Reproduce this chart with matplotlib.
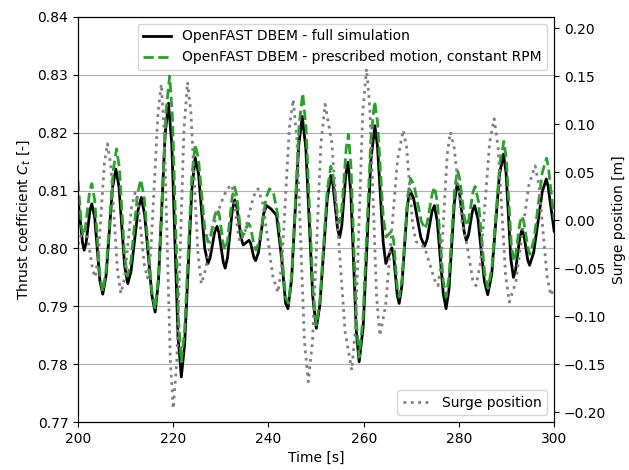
import numpy as np
import matplotlib
matplotlib.use('Agg')
from matplotlib import pyplot as plt

# values (extrema plus a few points on each flank)
t_full = [200.0, 200.95, 201.3, 201.7, 202.5, 202.9, 203.5, 204.6, 205.2, 205.9,
          207.25, 207.95, 208.6, 209.8, 210.45, 211.15, 212.6, 213.3, 214.0, 215.5,
          216.2, 216.9, 218.3, 219.0, 219.7, 221.0, 221.7, 222.4, 223.9, 224.6,
          225.3, 226.6, 227.3, 227.75, 228.7, 229.2, 229.6, 230.5, 230.9, 231.4,
          232.4, 232.9, 233.35, 234.25, 234.7, 235.9, 236.25, 236.95, 237.3, 237.9,
          239.0, 239.6, 240.6, 241.7, 242.8, 243.6, 244.1, 244.85, 246.35, 247.1,
          247.85, 249.3, 250.05, 250.8, 252.35, 253.1, 253.55, 254.5, 254.95, 255.4,
          256.25, 256.7, 257.3, 258.45, 259.05, 259.9, 261.5, 262.35, 262.9, 264.1,
          264.65, 265.9, 266.3, 267.05, 267.45, 268.0, 269.15, 269.7, 270.5, 272.0,
          272.8, 273.3, 274.35, 274.85, 275.45, 276.7, 277.3, 277.9, 279.05, 279.65,
          280.1, 281.1, 281.55, 282.0, 282.85, 283.3, 284.0, 285.35, 286.05, 286.9,
          288.5, 289.35, 289.9, 290.9, 291.45, 291.9, 292.8, 293.25, 293.65, 294.45,
          294.85, 295.7, 297.5, 298.35, 298.75, 300.0]
ct_full = [0.8085, 0.8010, 0.7997, 0.8009, 0.8065, 0.8077, 0.8054, 0.7944, 0.7921, 0.7953,
           0.8105, 0.8137, 0.8107, 0.7969, 0.7939, 0.7961, 0.8066, 0.8088, 0.8058, 0.7920,
           0.7890, 0.7944, 0.8197, 0.8251, 0.8180, 0.7849, 0.7778, 0.7835, 0.8100, 0.8157,
           0.8130, 0.8001, 0.7974, 0.7984, 0.8028, 0.8038, 0.8027, 0.7977, 0.7966, 0.7984,
           0.8066, 0.8084, 0.8072, 0.8018, 0.8006, 0.8014, 0.8009, 0.7984, 0.7979, 0.7993,
           0.8060, 0.8074, 0.8068, 0.8057, 0.7980, 0.7905, 0.7896, 0.7946, 0.8178, 0.8228,
           0.8173, 0.7917, 0.7862, 0.7902, 0.8086, 0.8126, 0.8110, 0.8035, 0.8019, 0.8039,
           0.8129, 0.8149, 0.8097, 0.7856, 0.7804, 0.7865, 0.8151, 0.8212, 0.8176, 0.8010,
           0.7974, 0.8001, 0.7987, 0.7919, 0.7905, 0.7934, 0.8072, 0.8101, 0.8086, 0.8019,
           0.8004, 0.8015, 0.8064, 0.8074, 0.8047, 0.7923, 0.7896, 0.7928, 0.8080, 0.8112,
           0.8097, 0.8029, 0.8014, 0.8023, 0.8065, 0.8074, 0.8051, 0.7943, 0.7920, 0.7956,
           0.8127, 0.8163, 0.8131, 0.7982, 0.7950, 0.7962, 0.8020, 0.8032, 0.8023, 0.7980,
           0.7971, 0.7993, 0.8098, 0.8120, 0.8106, 0.8030]

t_presc = [200.0, 200.75, 201.1, 201.55, 202.45, 202.9, 203.5, 204.6, 205.2, 205.9,
           207.4, 208.1, 208.7, 209.8, 210.4, 211.1, 212.5, 213.2, 213.95, 215.45,
           216.2, 216.95, 218.5, 219.25, 219.85, 221.1, 221.7, 222.4, 223.9, 224.6,
           225.3, 226.6, 227.3, 227.8, 228.8, 229.3, 229.7, 230.5, 230.9, 231.4,
           232.4, 232.9, 233.3, 234.1, 234.5, 234.85, 235.55, 235.9, 236.25, 237.0,
           237.4, 238.1, 239.5, 240.2, 241.0, 241.9, 242.7, 243.6, 244.2, 244.95,
           246.45, 247.2, 247.9, 249.35, 250.05, 250.8, 252.35, 253.1, 253.55, 254.5,
           254.95, 255.4, 256.35, 256.8, 257.35, 258.5, 259.05, 259.85, 261.5, 262.3,
           262.9, 264.1, 264.7, 265.9, 266.3, 267.05, 267.45, 268.05, 269.25, 269.85,
           270.6, 272.1, 272.85, 273.35, 274.4, 274.9, 275.5, 276.7, 277.3, 277.9,
           279.1, 279.7, 280.15, 281.15, 281.6, 282.05, 282.95, 283.4, 284.1, 285.4,
           286.1, 286.95, 288.6, 289.45, 289.95, 291.0, 291.5, 291.95, 292.8, 293.25,
           293.65, 294.5, 294.9, 295.75, 297.5, 298.4, 298.8, 300.0]
ct_presc = [0.8117, 0.8036, 0.8022, 0.8036, 0.8099, 0.8112, 0.8084, 0.7953, 0.7925, 0.7962,
            0.8135, 0.8172, 0.8139, 0.7985, 0.7952, 0.7977, 0.8094, 0.8119, 0.8085, 0.7929,
            0.7895, 0.7955, 0.8238, 0.8298, 0.8224, 0.7878, 0.7804, 0.7860, 0.8124, 0.8180,
            0.8155, 0.8036, 0.8011, 0.8020, 0.8059, 0.8068, 0.8057, 0.8008, 0.7997, 0.8013,
            0.8090, 0.8106, 0.8093, 0.8035, 0.8022, 0.8025, 0.8040, 0.8043, 0.8036, 0.8004,
            0.7997, 0.8013, 0.8087, 0.8103, 0.8098, 0.8060, 0.8000, 0.7915, 0.7905, 0.7959,
            0.8214, 0.8268, 0.8208, 0.7928, 0.7868, 0.7909, 0.8101, 0.8142, 0.8127, 0.8060,
            0.8045, 0.8068, 0.8174, 0.8197, 0.8139, 0.7870, 0.7812, 0.7878, 0.8188, 0.8254,
            0.8219, 0.8055, 0.8020, 0.8030, 0.8013, 0.7933, 0.7916, 0.7947, 0.8090, 0.8121,
            0.8108, 0.8047, 0.8034, 0.8045, 0.8095, 0.8106, 0.8078, 0.7944, 0.7916, 0.7949,
            0.8102, 0.8135, 0.8121, 0.8053, 0.8039, 0.8049, 0.8097, 0.8107, 0.8081, 0.7957,
            0.7931, 0.7968, 0.8148, 0.8185, 0.8155, 0.8008, 0.7978, 0.7990, 0.8044, 0.8056,
            0.8046, 0.8000, 0.7990, 0.8015, 0.8131, 0.8156, 0.8140, 0.8050]

t_surge = [200.0, 200.75, 201.5, 202.0, 203.1, 203.6, 204.25, 205.55, 206.2, 206.9,
           208.3, 209.0, 209.75, 211.25, 212.0, 212.65, 213.95, 214.6, 215.3, 216.8,
           217.5, 218.1, 219.4, 220.0, 220.75, 222.25, 223.0, 223.7, 225.2, 225.9,
           226.6, 228.7, 230.1, 231.3, 232.3, 232.7, 233.6, 234.0, 234.95, 236.85,
           237.8, 238.85, 240.95, 242.0, 242.8, 244.4, 245.2, 246.0, 247.55, 248.35,
           249.25, 251.0, 251.9, 253.3, 256.1, 257.5, 258.3, 259.8, 260.6, 261.3,
           262.7, 263.4, 264.6, 267.1, 268.3, 269.0, 270.3, 271.0, 272.8, 274.9,
           275.6, 276.25, 277.55, 278.2, 279.0, 280.7, 281.5, 282.9, 283.6, 284.55,
           286.45, 287.4, 288.2, 289.8, 290.6, 291.95, 294.65, 296.0, 296.8, 298.5,
           299.3, 300.0]
surge = [-0.025, -0.014, -0.010, -0.017, -0.052, -0.059, -0.039, 0.060, 0.080, 0.057,
         -0.053, -0.076, -0.061, 0.014, 0.029, 0.016, -0.047, -0.060, -0.031, 0.112,
         0.142, 0.093, -0.147, -0.196, -0.146, 0.094, 0.144, 0.113, -0.035, -0.066,
         -0.055, -0.002, 0.019, 0.033, 0.037, 0.028, -0.013, -0.022, -0.014, 0.025,
         0.033, 0.017, -0.059, -0.075, -0.046, 0.097, 0.126, 0.083, -0.125, -0.168,
         -0.126, 0.079, 0.121, 0.081, -0.116, -0.156, -0.110, 0.112, 0.158, 0.117,
         -0.079, -0.120, -0.089, 0.063, 0.094, 0.077, -0.005, -0.022, -0.028, -0.062,
         -0.068, -0.045, 0.069, 0.092, 0.076, -0.004, -0.020, -0.062, -0.068, -0.043,
         0.081, 0.106, 0.078, -0.057, -0.085, -0.064, 0.036, 0.057, 0.037, -0.058,
         -0.078, -0.070]

fig = plt.figure(figsize=(6.29, 4.70), dpi=100)
ax1 = fig.add_axes([0.124, 0.102, 0.757, 0.862])

ax1.plot(t_full, ct_full, color='black', lw=2, label='OpenFAST DBEM - full simulation')
ax1.plot(t_presc, ct_presc, color='tab:green', lw=2, ls='--',
         label='OpenFAST DBEM - prescribed motion, constant RPM')
ax1.set_xlim(200, 300)
ax1.set_ylim(0.77, 0.84)
ax1.set_xticks(np.arange(200, 301, 20))
ax1.set_yticks(np.arange(0.77, 0.8401, 0.01))
ax1.set_xlabel('Time [s]')
ax1.set_ylabel('Thrust coefficient $C_t$ [-]')
ax1.grid(axis='y')
ax1.legend(loc='upper right')

ax2 = ax1.twinx()
ax2.plot(t_surge, surge, color='gray', lw=2, ls=':', label='Surge position')
ax2.set_ylim(-0.21, 0.212)
ax2.set_yticks(np.arange(-0.20, 0.201, 0.05))
ax2.set_ylabel('Surge position [m]')
ax2.grid(axis='x')
ax2.legend(loc='lower right')

plt.savefig('out.png', dpi=100)
